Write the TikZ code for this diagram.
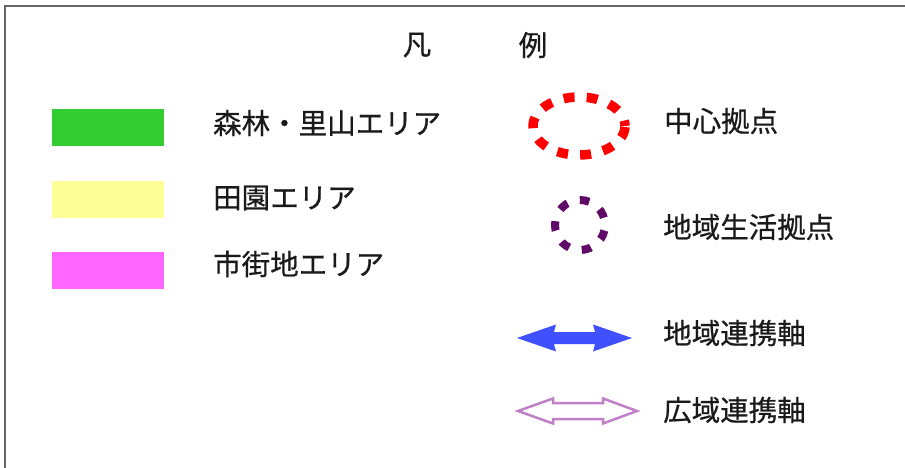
\documentclass[tikz,border=0pt]{standalone}
\usepackage{fontspec}
\newfontfamily\jpfont[FakeBold=0.6]{Noto Sans CJK JP}
\usetikzlibrary{positioning,shapes.geometric}
\definecolor{forestgreen}{HTML}{33CC33}
\definecolor{fieldyellow}{HTML}{FFFF99}
\definecolor{townpink}{HTML}{FF66FF}
\definecolor{hubred}{HTML}{FF0000}
\definecolor{hubpurple}{HTML}{5E0A66}
\definecolor{axisblue}{HTML}{4050FF}
\definecolor{axisorchid}{HTML}{C080C8}
\definecolor{textgray}{HTML}{1A1A1A}
\tikzset{
  swatch/.style={rectangle,minimum width=112pt,minimum height=37pt,inner sep=0pt},
  legtext/.style={font=\jpfont\fontsize{28.5}{28.5}\selectfont,text=textgray,inner sep=0pt,anchor=west}
}
\begin{document}
\begin{tikzpicture}[x=1pt,y=-1pt]
        \useasboundingbox (0,0) rectangle (905,468);
        \draw [line width=2pt,gray!80!black] (905,6.5) -- (4.5,6.5) -- (4.5,468);
        % title
        \node [legtext,anchor=center] (titleA) at (417,45) {凡};
        \node [legtext,anchor=center] (titleB) at (533,45) {例};
        % areas
        \node [swatch,fill=forestgreen] (forest) at (108,127.5) {};
        \node [swatch,fill=fieldyellow] (field) at (108,199.5) {};
        \node [swatch,fill=townpink] (town) at (108,270.5) {};
        \node [legtext] (forestlab) at (213,123) {森林・里山エリア};
        \node [legtext] (fieldlab) at (213,198) {田園エリア};
        \node [legtext] (townlab) at (213,264) {市街地エリア};
        % hubs
        \node [ellipse,draw=hubred,line width=9.5pt,dash pattern=on 11pt off 12.2pt,dash phase=5.5pt,
               minimum width=92pt,minimum height=58pt,inner sep=0pt] (mainhub) at (579,126) {};
        \node [circle,draw=hubpurple,line width=8pt,dash pattern=on 9.5pt off 12.9pt,dash phase=15pt,
               minimum size=50pt,inner sep=0pt] (localhub) at (580,225) {};
        \node [legtext] (mainhublab) at (664,121) {中心拠点};
        \node [legtext] (localhublab) at (663,227) {地域生活拠点};
        % axes
        \fill [axisblue] (517,338) -- (556,324.5) -- (554,332) -- (595,332) -- (593,324.5)
              -- (632,338) -- (593,351.5) -- (595,344) -- (554,344) -- (556,351.5) -- cycle;
        \draw [axisorchid,line width=2.5pt,line join=miter]
              (518,411) -- (553,398.5) -- (553,403) -- (603,403) -- (603,398.5)
              -- (637,411) -- (603,423.5) -- (603,419) -- (553,419) -- (553,423.5) -- cycle;
        \node [legtext] (localaxislab) at (663,333) {地域連携軸};
        \node [legtext] (wideaxislab) at (663,410) {広域連携軸};
\end{tikzpicture}
\end{document}
